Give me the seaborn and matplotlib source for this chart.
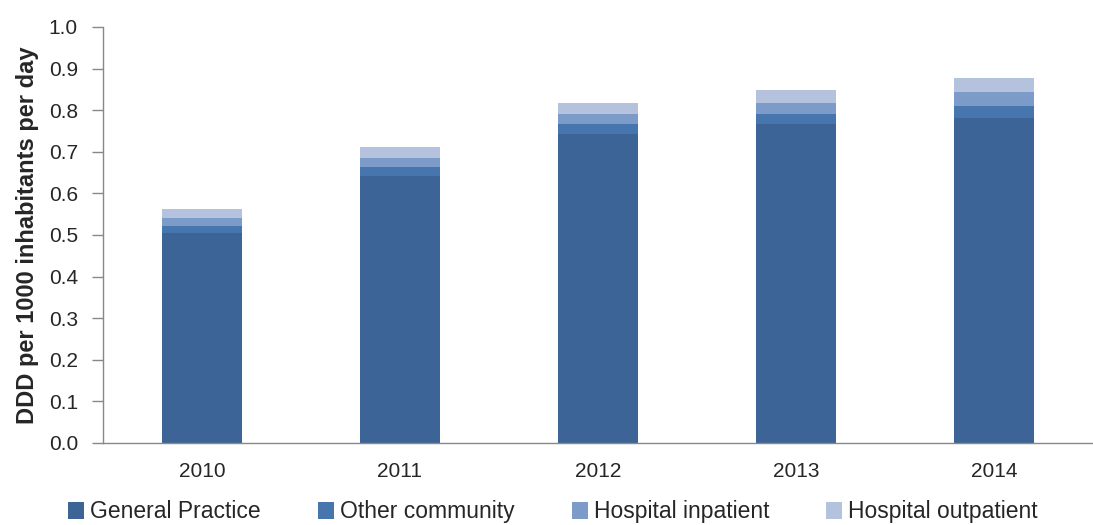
import matplotlib
matplotlib.use("Agg")
import matplotlib.pyplot as plt
import seaborn as sns
import pandas as pd
import numpy as np
from matplotlib.patches import Patch

years = ["2010", "2011", "2012", "2013", "2014"]
general_practice = [0.506, 0.643, 0.742, 0.766, 0.782]
other_community = [0.016, 0.021, 0.024, 0.025, 0.027]
hospital_inpatient = [0.018, 0.021, 0.025, 0.027, 0.034]
hospital_outpatient = [0.022, 0.026, 0.027, 0.031, 0.034]
series_names = ["General Practice", "Other community", "Hospital inpatient", "Hospital outpatient"]
colors = ["#3D6496", "#4775AD", "#7D9BC8", "#B5C2DE"]
y_ticks = [0.0, 0.1, 0.2, 0.3, 0.4, 0.5, 0.6, 0.7, 0.8, 0.9, 1.0]

sns.set_theme(style="white")
plt.rcParams['font.family'] = ['Liberation Sans', 'DejaVu Sans']

series = [general_practice, other_community, hospital_inpatient, hospital_outpatient]
cum = np.cumsum(np.array(series), axis=0)

fig = plt.figure(figsize=(10.93, 5.25), dpi=100)
ax = fig.add_axes([103 / 1093, 1 - 443 / 525, 1 - 103 / 1093, (443 - 27) / 525])

for i in range(len(series) - 1, -1, -1):
    df = pd.DataFrame({"year": years, "value": cum[i]})
    sns.barplot(data=df, x="year", y="value", color=colors[i], width=0.4,
                saturation=1, ax=ax, linewidth=0, order=years)

ax.set_xlim(-0.5, 4.444)
ax.set_ylim(0, 1.0)
ax.set_yticks(y_ticks)
ax.set_yticklabels([f"{v:.1f}" for v in y_ticks], fontsize=15)
ax.set_xlabel("")
ax.set_ylabel("DDD per 1000 inhabitants per day", fontsize=17, fontweight="bold", labelpad=7)
ax.tick_params(axis="x", which="major", length=0, labelsize=15, pad=14)
ax.set_xticks(np.arange(-0.5, 5, 1), minor=True)
ax.tick_params(axis="x", which="minor", length=9, color="#888888", width=1, direction="out")
ax.tick_params(axis="y", which="major", length=8, color="#888888", width=1, direction="out", left=True, pad=10)

for s in ["top", "right"]:
    ax.spines[s].set_visible(False)
for s in ["left", "bottom"]:
    ax.spines[s].set_color("#888888")
    ax.spines[s].set_linewidth(1)

handles = [Patch(facecolor=c, edgecolor="none", label=n) for c, n in zip(colors, series_names)]
fig.legend(handles=handles, loc="center", bbox_to_anchor=(0.506, 0.025), ncol=4, frameon=False,
           fontsize=16.5, handlelength=0.7, handleheight=0.75, handletextpad=0.25, columnspacing=2.5)

fig.savefig("out.png", dpi=100)
